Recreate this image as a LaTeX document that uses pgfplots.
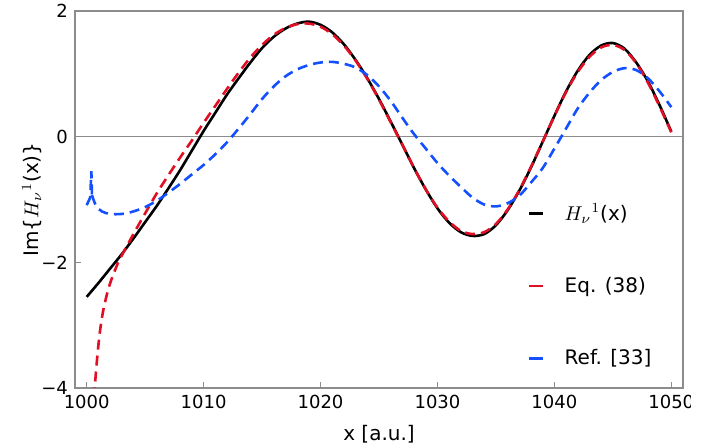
\documentclass[border=0pt]{standalone}
\usepackage{fontspec}
\setmainfont{DejaVu Sans}
\usepackage{pgfplots}
\pgfplotsset{compat=1.18}
\definecolor{eqred}{RGB}{225,15,35}
\definecolor{refblue}{RGB}{20,80,255}
\definecolor{framegray}{RGB}{140,140,140}

\begin{document}
\begin{tikzpicture}
\path[use as bounding box] (-37.5pt,-28pt) rectangle (326.5pt,194pt);
\clip (-37.5pt,-28pt) rectangle (307.5pt,194pt);
\begin{axis}[
  at={(0,0)}, anchor=south west,
  scale only axis, width=304pt, height=188.5pt,
  xmin=999, xmax=1051, ymin=-4, ymax=2,
  xtick={1000,1010,1020,1030,1040,1050},
  xticklabels={1000,1010,1020,1030,1040,1050},
  ytick={-4,-2,0,2},
  yticklabels={−4,−2,0,2},
  tick pos=left, tick align=inside, major tick length=3pt,
  axis line style={framegray, line width=0.6pt},
  tick style={framegray, line width=0.6pt},
  tick label style={font=\fontsize{9}{11}\selectfont},
  xlabel={x [a.u.]}, ylabel={Im\{$H_\nu{}^1$(x)\}},
  label style={font=\fontsize{10}{12}\selectfont},
  every axis x label/.style={at={(axis description cs:0.5,-0.122)}, anchor=center},
  every axis y label/.style={at={(axis description cs:-0.071,0.5)}, anchor=center, rotate=90},
  legend cell align=left,
  legend image code/.code={\draw[#1, solid, line width=1.2pt] (0pt,0pt) -- (7pt,0pt);},
  legend style={draw=none, fill=none, at={(rel axis cs:0.735,0.511)}, anchor=north west,
    row sep=23pt, font=\fontsize{10}{12}\selectfont,
    /tikz/every odd column/.append style={column sep=8pt}},
]
\addplot[framegray, line width=0.5pt, forget plot] coordinates {(999,0) (1051,0)};

\addplot[black, line width=1.3pt, smooth] coordinates {
(1000,-2.55) (1001,-2.33) (1002,-2.10) (1003,-1.87) (1004,-1.62) (1005,-1.36)
(1006,-1.10) (1007,-0.82) (1008,-0.53) (1009,-0.22) (1010,0.09) (1011,0.38)
(1012,0.67) (1013,0.93) (1014,1.18) (1015,1.41) (1016,1.59) (1017,1.72)
(1018,1.80) (1019,1.83) (1020,1.78) (1021,1.66) (1022,1.47) (1023,1.22)
(1024,0.93) (1025,0.60) (1026,0.24) (1027,-0.13) (1028,-0.50) (1029,-0.84)
(1030,-1.14) (1031,-1.37) (1032,-1.52) (1033,-1.58) (1034,-1.55) (1035,-1.41)
(1036,-1.17) (1037,-0.86) (1038,-0.49) (1039,-0.08) (1040,0.33) (1041,0.72)
(1042,1.05) (1043,1.30) (1044,1.45) (1045,1.49) (1046,1.40) (1047,1.18)
(1048,0.88) (1049,0.50) (1050,0.08)
};
\addlegendentry{$H_\nu{}^1$(x)}

\addplot[eqred, line width=1.3pt, dash pattern=on 5pt off 3pt, smooth] coordinates {
(1000.62,-4.15) (1000.85,-3.62) (1001.1,-3.15) (1001.4,-2.78) (1001.8,-2.46)
(1002.2,-2.23) (1002.7,-2.00) (1003,-1.89) (1004,-1.55) (1005,-1.22)
(1006,-0.90) (1007,-0.61) (1008,-0.33) (1009,-0.06) (1010,0.22) (1011,0.49)
(1012,0.76) (1013,1.02) (1014,1.26) (1015,1.46) (1016,1.62) (1017,1.73)
(1018,1.79) (1019,1.80) (1020,1.75) (1021,1.63) (1022,1.45) (1023,1.21)
(1024,0.92) (1025,0.59) (1026,0.23) (1027,-0.13) (1028,-0.50) (1029,-0.84)
(1030,-1.13) (1031,-1.35) (1032,-1.50) (1033,-1.55) (1034,-1.52) (1035,-1.39)
(1036,-1.16) (1037,-0.85) (1038,-0.48) (1039,-0.08) (1040,0.33) (1041,0.71)
(1042,1.03) (1043,1.27) (1044,1.42) (1045,1.46) (1046,1.38) (1047,1.17)
(1048,0.86) (1049,0.48) (1050,0.07)
};
\addlegendentry{Eq. (38)}

\addplot[refblue, line width=1.3pt, dash pattern=on 5pt off 3pt, forget plot] coordinates {
(1000,-1.09) (1000.3,-0.97) (1000.4,-0.55) (1000.45,-0.93)
};
\addplot[refblue, line width=1.3pt, dash pattern=on 5pt off 3pt, smooth] coordinates {
(1000.45,-0.93) (1000.8,-1.10) (1001.3,-1.19) (1002,-1.23) (1003,-1.23)
(1004,-1.19) (1005,-1.12) (1006,-1.02) (1007,-0.89) (1008,-0.75) (1009,-0.60)
(1010,-0.45) (1011,-0.28) (1012,-0.09) (1013,0.13) (1014,0.36) (1015,0.60)
(1016,0.80) (1017,0.96) (1018,1.07) (1019,1.14) (1020,1.18) (1021,1.19)
(1022,1.16) (1023,1.10) (1024,0.98) (1025,0.80) (1026,0.57) (1027,0.30)
(1028,0.04) (1029,-0.19) (1030,-0.42) (1031,-0.62) (1032,-0.80) (1033,-0.97)
(1034,-1.08) (1035,-1.11) (1036,-1.06) (1037,-0.94) (1038,-0.73) (1039,-0.50)
(1040,-0.19) (1041,0.13) (1042,0.45) (1043,0.70) (1044,0.90) (1045,1.03)
(1046,1.09) (1047,1.06) (1048,0.93) (1049,0.72) (1050,0.47)
};
\addlegendentry{Ref. [33]}
\end{axis}
\end{tikzpicture}
\end{document}
